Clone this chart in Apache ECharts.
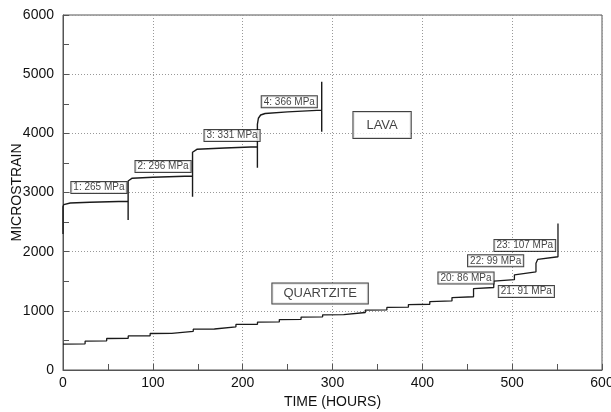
<!DOCTYPE html>
<html>
<head>
<meta charset="utf-8">
<script src="https://cdn.jsdelivr.net/npm/echarts@6/dist/echarts.min.js"></script>
<style>
  html, body { margin: 0; padding: 0; background: #fff; }
  #chart { width: 611px; height: 412px; }
</style>
</head>
<body>
<div id="chart"></div>
<script>
// Creep test record: strain vs. time under stepped stress levels.

// LAVA specimen: four 72-hour stress stages, each ending with an unload spike
const lavaTime = [
  0, 0, 0.8, 2.5, 8, 30, 72.5, 72.5,
  72.5, 73.5, 77, 100, 144.2, 144.2,
  144.2, 145.5, 149, 180, 216.4, 216.4,
  216.4, 217.5, 220, 225, 250, 288, 288, 288
];
const lavaStrain = [
  2300, 2760, 2795, 2810, 2822, 2835, 2852, 2534,
  3195, 3228, 3242, 3258, 3280, 2930,
  3680, 3712, 3730, 3752, 3772, 3420,
  4150, 4255, 4310, 4335, 4362, 4392, 4870, 4025
];

// QUARTZITE specimen: 23 stages of roughly 24 hours each
const quartziteStageStart = [
  0, 24.6, 48.6, 72.6, 97, 121, 145, 168.5, 192.5, 216.5, 240.8, 265,
  289, 312.5, 336.5, 360.5, 384.5, 408.3, 433, 457, 479.5, 502.5, 526.5
];
const quartziteStageEnd = 551;
// strain at the beginning and at the end of each stage
const quartziteStrainStart = [
  439, 488, 532, 576, 617, 650, 690, 726, 770, 810, 853, 895,
  932, 968, 1012, 1057, 1106, 1156, 1224, 1376, 1503, 1608, 1805
];
const quartziteStrainEnd = [
  442, 491, 535, 579, 620, 653, 693, 729, 773, 813, 856, 898,
  936, 972, 1016, 1061, 1111, 1168, 1238, 1394, 1526, 1660, 1914
];
const quartziteUnloadPeak = 2478;

// Stress-level annotations: [time, strain, text]
const stageLabels = [
  [40, 3086, '1: 265 MPa'],
  [111.4, 3441, '2: 296 MPa'],
  [188.2, 3964, '3: 331 MPa'],
  [251.9, 4532, '4: 366 MPa'],
  [448.6, 1554, '20: 86 MPa'],
  [515.8, 1326, '21: 91 MPa'],
  [481.6, 1846, '22: 99 MPa'],
  [514.1, 2103, '23: 107 MPa']
];
const materialLabels = [
  [355.2, 4139, 'LAVA'],
  [286.2, 1292, 'QUARTZITE']
];

const xTicks = [0, 100, 200, 300, 400, 500, 600];
const yTicks = [0, 1000, 2000, 3000, 4000, 5000, 6000];

const pairs = (xs, ys) => xs.map((x, i) => [x, ys[i]]);

// staircase path: each stage creeps from its start strain to its end strain,
// the riser to the next stage is drawn at the shared time
function quartzitePath() {
  const pts = [];
  quartziteStageStart.forEach((t0, i) => {
    const t1 = i + 1 < quartziteStageStart.length ? quartziteStageStart[i + 1] : quartziteStageEnd;
    const a = quartziteStrainStart[i], b = quartziteStrainEnd[i];
    pts.push([t0, a]);
    if (i >= 19) {
      // later stages show a rounded knee just after loading
      pts.push([t0 + 2, a + (b - a) * 0.6]);
    }
    pts.push([t1, b]);
  });
  pts.push([quartziteStageEnd, quartziteUnloadPeak]);
  return pts;
}

const chart = echarts.init(document.getElementById('chart'), null, { renderer: 'canvas' });

const fontFam = '"Liberation Sans", Arial, sans-serif';

const boxLabel = (fontSize, pad) => ({
  show: true,
  position: 'inside',
  formatter: p => p.data[2],
  fontFamily: fontFam,
  fontSize: fontSize,
  color: '#111',
  backgroundColor: '#fff',
  borderColor: '#111',
  borderWidth: 1,
  padding: pad
});

chart.setOption({
  animation: false,
  backgroundColor: '#fff',
  grid: {
    left: 63, right: 9, top: 15, bottom: 42,
    containLabel: false, outerBoundsMode: 'none',
    show: true, borderColor: '#555', borderWidth: 1, backgroundColor: 'transparent'
  },
  xAxis: {
    type: 'value',
    min: xTicks[0], max: xTicks[xTicks.length - 1], interval: 100,
    name: 'TIME (HOURS)', nameLocation: 'middle', nameGap: 25, nameMoveOverlap: false,
    nameTextStyle: { fontFamily: fontFam, fontSize: 14, color: '#111' },
    axisLine: { show: true, lineStyle: { color: '#555', width: 1 } },
    axisTick: { show: true, inside: true, length: 6, lineStyle: { color: '#555' } },
    minorTick: { show: true, splitNumber: 2, length: 6, lineStyle: { color: '#555' } },
    axisLabel: { fontFamily: fontFam, fontSize: 14, color: '#111', margin: 6, formatter: v => String(v) },
    splitLine: { show: true, lineStyle: { color: '#999', type: [1, 2], width: 1 } }
  },
  yAxis: {
    type: 'value',
    min: yTicks[0], max: yTicks[yTicks.length - 1], interval: 1000,
    name: 'MICROSTRAIN', nameLocation: 'middle', nameGap: 39, nameMoveOverlap: false,
    nameTextStyle: { fontFamily: fontFam, fontSize: 14, color: '#111' },
    axisLine: { show: true, lineStyle: { color: '#555', width: 1 } },
    axisTick: { show: true, inside: true, length: 6, lineStyle: { color: '#555' } },
    minorTick: { show: true, splitNumber: 2, length: 6, lineStyle: { color: '#555' } },
    axisLabel: { fontFamily: fontFam, fontSize: 14, color: '#111', margin: 9, formatter: v => String(v) },
    splitLine: { show: true, lineStyle: { color: '#999', type: [1, 2], width: 1 } }
  },
  series: [
    {
      name: 'LAVA', type: 'line', data: pairs(lavaTime, lavaStrain),
      showSymbol: false, symbol: 'none', smooth: false,
      lineStyle: { color: '#1a1a1a', width: 1.4 }, z: 3
    },
    {
      name: 'QUARTZITE', type: 'line', data: quartzitePath(),
      showSymbol: false, symbol: 'none', smooth: false,
      lineStyle: { color: '#1a1a1a', width: 1.3 }, z: 3
    },
    {
      type: 'scatter', data: stageLabels, symbolSize: 0, z: 5,
      label: boxLabel(10, [1, 2, 0, 2])
    },
    {
      type: 'scatter', symbolSize: 0, z: 5,
      data: [
        { value: materialLabels[0], label: { padding: [7, 13, 6, 13] } },
        { value: materialLabels[1], label: { padding: [4, 11, 3, 11] } }
      ],
      label: Object.assign(boxLabel(13, [4, 11, 3, 11]), { formatter: p => p.value[2] })
    }
  ]
});
</script>
</body>
</html>
